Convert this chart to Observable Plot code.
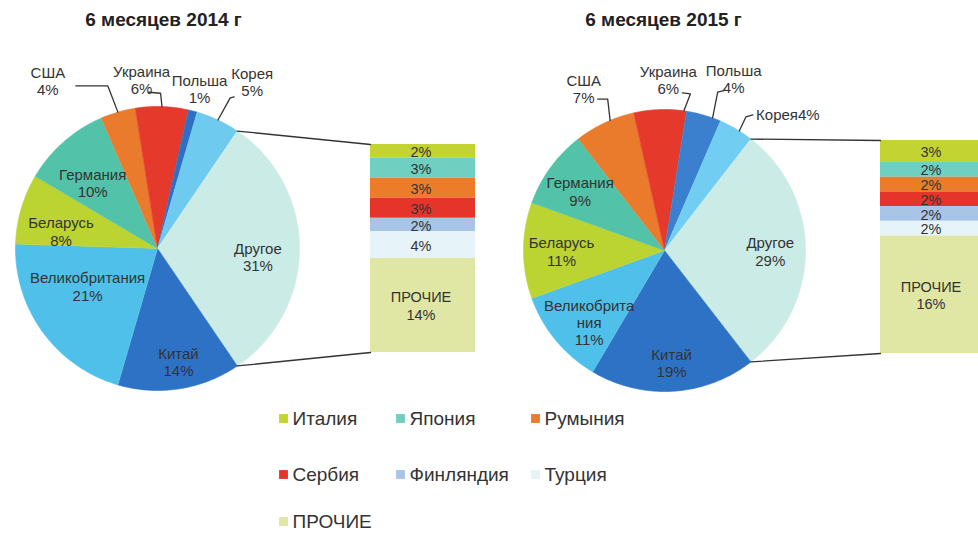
<!DOCTYPE html>
<html><head><meta charset="utf-8">
<script src="https://cdn.jsdelivr.net/npm/d3@7"></script>
<script src="https://cdn.jsdelivr.net/npm/@observablehq/plot@0.6"></script>
<style>body{margin:0;background:#fff;font-family:"Liberation Sans",Arial,sans-serif}</style>
</head><body><div id="chart"></div>
<script>
// ---------- DATA ----------
const titles = ["6 месяцев 2014 г", "6 месяцев 2015 г"];
const pieCountries = ["США","Украина","Польша","Корея","Другое","Китай","Великобритания","Беларусь","Германия"];
const pie2014 = [4, 6, 1, 5, 31, 14, 21, 8, 10];
const pie2015 = [7, 6, 4, 4, 29, 19, 11, 11, 9];
const pieLabels2014 = ["США\n4%","Украина\n6%","Польша\n1%","Корея\n5%","Другое\n31%","Китай\n14%","Великобритания\n21%","Беларусь\n8%","Германия\n10%"];
const pieLabels2015 = ["США\n7%","Украина\n6%","Польша\n4%","Корея4%","Другое\n29%","Китай\n19%","Великобрита\nния\n11%","Беларусь\n11%","Германия\n9%"];
const otherCountries = ["Италия","Япония","Румыния","Сербия","Финляндия","Турция","ПРОЧИЕ"];
const other2014 = [2, 3, 3, 3, 2, 4, 14];
const other2015 = [3, 2, 2, 2, 2, 2, 16];

// ---------- STYLE / LAYOUT ----------
const W = 978, H = 533;
const pieColors = [
  {США:"#ea7a2c",Украина:"#e4392b",Польша:"#2c6fc5",Корея:"#6fcaf0",Другое:"#cbebe7",Китай:"#2e72c6",Великобритания:"#4fc0ea",Беларусь:"#bcd432",Германия:"#52c2a8"},
  {США:"#ea7a2c",Украина:"#e4392b",Польша:"#3b80cf",Корея:"#72cdf2",Другое:"#cbebe7",Китай:"#2e72c6",Великобритания:"#4fc0ea",Беларусь:"#bcd432",Германия:"#52c2a8"}
];
const otherColors = {Италия:"#c3d432",Япония:"#6fcfc0",Румыния:"#ec7b2a",Сербия:"#e5352a",Финляндия:"#a8c4e7",Турция:"#e6f3f8",ПРОЧИЕ:"#e0e6a4"};
const panels = [
  {cx:157, cy:248, r:142, bx1:370, bx2:475, top:144, bottom:352, titleX:163},
  {cx:664, cy:250, r:141, bx1:880, bx2:985, top:140, bottom:353, titleX:663}
];
// label placement: [radius factor, angle offset from slice middle]
const labelPlace = [
  {США:[1.41,-17],Украина:[1.19,-7.2],Польша:[1.16,0.4],Корея:[1.35,4.4],Другое:[0.71,5],Китай:[0.81,-1.5],Великобритания:[0.56,7.5],Беларусь:[0.69,-6.2],Германия:[0.65,-3.2]},
  {США:[1.28,-1.4],Украина:[1.21,3.1],Польша:[1.31,5.8],Корея:[1.3,11.7],Другое:[0.75,0.5],Китай:[0.8,0],Великобритания:[0.74,-4.2],Беларусь:[0.73,-0.6],Германия:[0.73,-1]}
];
const leaderPlace = [
  {США:{t:0.5,end:[28,5],elbow:[32,0]},Украина:{t:0.5,end:[7,12],elbow:[12,1]},Корея:{t:0.5,end:[-18,15],elbow:[-4,1]}},
  {США:{t:0.6,end:[14,10],elbow:[10,0]},Украина:{t:0.95,end:[14,13],elbow:[8,1]},Польша:{t:0.76,end:[-8,11],elbow:[-8,2]},Корея:{t:0.6,end:[-35,0],elbow:[-7,2]}}
];
const legendCols = [283, 400, 535], legendRows = [418, 474, 521];

// ---------- BUILD ----------
const pies = [pie2014, pie2015], pieLabels = [pieLabels2014, pieLabels2015];
const others = [other2014, other2015];
const rad = d => d * Math.PI / 180;
const pt = (p, ang, rr) => ({x: p.cx + rr * Math.sin(rad(ang)), y: p.cy - rr * Math.cos(rad(ang))});

const slicePts = [], labels = [], lines = [], barRects = [], barTexts = [], titleTexts = [];
pies.forEach((vals, pi) => {
  const p = panels[pi];
  const total = d3.sum(vals);
  const iOther = pieCountries.indexOf("Другое");
  const before = d3.sum(vals.slice(0, iOther));
  let a = 90 - (before + vals[iOther] / 2) / total * 360;
  const angles = {};
  vals.forEach((v, i) => {
    const name = pieCountries[i];
    const a0 = a, a1 = a + v / total * 360;
    angles[name] = [a0, a1];
    const key = `p${pi}-${i}`;
    const color = pieColors[pi][name];
    slicePts.push({key, color, ...pt(p, 0, 0)});
    const n = Math.max(2, Math.ceil((a1 - a0)));
    for (let k = 0; k <= n; k++) slicePts.push({key, color, ...pt(p, a0 + (a1 - a0) * k / n, p.r)});
    const mid = (a0 + a1) / 2;
    const [f, off] = labelPlace[pi][name];
    const lp = pt(p, mid + off, p.r * f);
    labels.push({x: lp.x, y: lp.y, text: pieLabels[pi][i]});
    const ld = leaderPlace[pi][name];
    if (ld) {
      const rim = pt(p, a0 + (a1 - a0) * ld.t, p.r);
      const end = {x: lp.x + ld.end[0], y: lp.y + ld.end[1]};
      const elbow = {x: end.x + ld.elbow[0], y: end.y + ld.elbow[1]};
      [rim, elbow, end].forEach(q => lines.push({key: `l${pi}-${i}`, ...q}));
    }
    a = a1;
  });
  // connectors pie -> bar
  const [o0, o1] = angles["Другое"];
  const s0 = pt(p, o0, p.r), s1 = pt(p, o1, p.r);
  lines.push({key:`c${pi}a`, ...s0}, {key:`c${pi}a`, x:p.bx1, y:p.top});
  lines.push({key:`c${pi}b`, ...s1}, {key:`c${pi}b`, x:p.bx1, y:p.bottom});
  // stacked bar
  const ov = others[pi], osum = d3.sum(ov);
  const k = (p.bottom - p.top) / osum;
  let cum = 0;
  ov.forEach((v, i) => {
    const y1 = p.top + cum * k, y2 = p.top + (cum + v) * k;
    barRects.push({x1:p.bx1, x2:p.bx2, y1, y2, color: otherColors[otherCountries[i]]});
    const nm = otherCountries[i];
    barTexts.push({x:(p.bx1 + p.bx2) / 2 - 2, y:(y1 + y2) / 2, text: nm === "ПРОЧИЕ" ? `${nm}\n${v}%` : `${v}%`});
    cum += v;
  });
  titleTexts.push({x: p.titleX, y: 19, text: titles[pi]});
});

const legendItems = otherCountries.map((nm, i) => ({
  x: legendCols[i % 3], y: legendRows[Math.floor(i / 3)], text: nm, color: otherColors[nm]
}));

const chart = Plot.plot({
  width: W, height: H, margin: 0,
  x: {domain: [0, W], range: [0, W], axis: null},
  y: {domain: [0, H], range: [0, H], axis: null},
  color: {type: "identity"},
  style: {background: "#fff", fontFamily: "'Liberation Sans', Arial, sans-serif", overflow: "hidden"},
  marks: [
    Plot.line(slicePts, {x: "x", y: "y", z: "key", fill: "color", stroke: "color", strokeWidth: 0.6, curve: "linear"}),
    Plot.rect(barRects, {x1: "x1", x2: "x2", y1: "y1", y2: "y2", fill: "color"}),
    Plot.line(lines, {x: "x", y: "y", z: "key", stroke: "#333", strokeWidth: 1.3, curve: "linear"}),
    Plot.text(labels, {x: "x", y: "y", text: "text", fontSize: 15, fill: "#333", lineHeight: 1.15}),
    Plot.text(barTexts, {x: "x", y: "y", text: "text", fontSize: 14.5, fill: "#333", lineHeight: 1.2}),
    Plot.text(titleTexts, {x: "x", y: "y", text: "text", fontSize: 19, fontWeight: "bold", fill: "#222"}),
    Plot.dot(legendItems, {x: "x", y: "y", symbol: "square", r: 5, fill: "color"}),
    Plot.text(legendItems, {x: d => d.x + 9, y: "y", text: "text", textAnchor: "start", fontSize: 19, fill: "#333"})
  ]
});
document.getElementById("chart").appendChild(chart);
</script>
</body></html>
